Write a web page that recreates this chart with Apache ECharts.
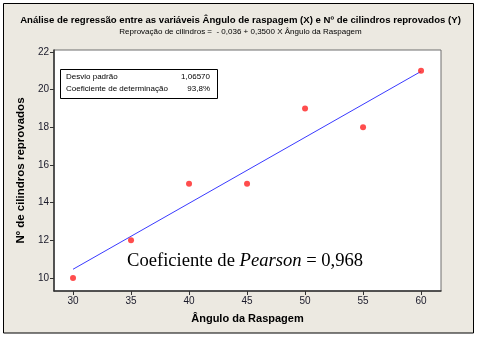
<!DOCTYPE html>
<html>
<head>
<meta charset="utf-8">
<script src="https://cdn.jsdelivr.net/npm/echarts@6/dist/echarts.min.js"></script>
<style>
  html, body { margin: 0; padding: 0; background: #ffffff; }
  #chart { width: 481px; height: 338px; }
</style>
</head>
<body>
<div id="chart"></div>
<script>
// Observed data: scraping angle (X) vs rejected cylinders (Y)
const angles = [30, 35, 40, 45, 50, 55, 60];
const rejected = [10, 12, 15, 15, 19, 18, 21];

// Fitted regression: Y = b0 + b1 * X
const intercept = -0.036;
const slope = 0.35;
const fitRange = [30, 60];

const xTicks = [30, 35, 40, 45, 50, 55, 60];
const yTicks = [10, 12, 14, 16, 18, 20, 22];

const titleText = 'Análise de regressão entre as variáveis Ângulo de raspagem (X) e Nº de cilindros reprovados (Y)';
const subtitleText = 'Reprovação de cilindros =  - 0,036 + 0,3500 X Ângulo da Raspagem';
const statLabels = ['Desvio padrão', 'Coeficiente de determinação'];
const statValues = ['1,06570', '93,8%'];
const pearsonValue = '0,968';

const scatterData = angles.map((a, i) => [a, rejected[i]]);
const fitData = fitRange.map(x => [x, intercept + slope * x]);

const uiFont = 'Liberation Sans';
const chart = echarts.init(document.getElementById('chart'), null, { renderer: 'canvas' });

chart.setOption({
  animation: false,
  backgroundColor: '#ffffff',
  graphic: [
    {
      type: 'rect', z: -10, silent: true,
      shape: { x: 3.5, y: 3.5, width: 470, height: 329.5 },
      style: { fill: '#ECE9E1', stroke: '#000000', lineWidth: 1 }
    },
    {
      type: 'text', left: 'center', top: 15,
      style: { text: titleText, font: 'bold 9.6px ' + uiFont, fill: '#000' }
    },
    {
      type: 'text', left: 'center', top: 28,
      style: { text: subtitleText, font: '8px ' + uiFont, fill: '#000' }
    },
    {
      type: 'group', left: 60, top: 69, z: 10,
      children: [
        { type: 'rect', shape: { x: 0.5, y: 0.5, width: 157, height: 29 },
          style: { fill: '#ffffff', stroke: '#000', lineWidth: 1 } },
        { type: 'text', left: 6, top: 4,
          style: { text: statLabels[0], font: '8px ' + uiFont, fill: '#000' } },
        { type: 'text', left: 6, top: 16,
          style: { text: statLabels[1], font: '8px ' + uiFont, fill: '#000' } },
        { type: 'text', x: 150, y: 4,
          style: { text: statValues[0], font: '8px ' + uiFont, fill: '#000', align: 'right' } },
        { type: 'text', x: 150, y: 16,
          style: { text: statValues[1], font: '8px ' + uiFont, fill: '#000', align: 'right' } }
      ]
    },
    {
      type: 'text', left: 127, top: 252, z: 10,
      style: {
        text: '{n|Coeficiente de }{i|Pearson}{n| = ' + pearsonValue + '}',
        rich: {
          n: { font: '18.6px "Liberation Serif"', fill: '#000' },
          i: { font: 'italic 18.6px "Liberation Serif"', fill: '#000' }
        }
      }
    }
  ],
  grid: {
    left: 54, top: 50, width: 387, height: 241,
    show: true, backgroundColor: '#ffffff', borderColor: '#6e6e6e', borderWidth: 1
  },
  xAxis: {
    type: 'value', min: 28.36, max: 61.72,
    name: 'Ângulo da Raspagem', nameLocation: 'middle', nameGap: 22,
    nameTextStyle: { fontFamily: uiFont, fontWeight: 'bold', fontSize: 11, color: '#000' },
    axisLine: { show: true, lineStyle: { color: '#333', width: 1.5 } },
    axisTick: { show: true, length: 4, lineStyle: { color: '#333' }, customValues: xTicks },
    axisLabel: { fontFamily: uiFont, fontSize: 10, color: '#1a1a2a', margin: 5, customValues: xTicks },
    splitLine: { show: false }
  },
  yAxis: {
    type: 'value', min: 9.31, max: 22.1,
    name: 'Nº de cilindros reprovados', nameLocation: 'middle', nameGap: 26,
    nameTextStyle: { fontFamily: uiFont, fontWeight: 'bold', fontSize: 11.5, color: '#000' },
    axisLine: { show: true, lineStyle: { color: '#333', width: 1.5 } },
    axisTick: { show: true, length: 4, lineStyle: { color: '#333' }, customValues: yTicks },
    axisLabel: { fontFamily: uiFont, fontSize: 10, color: '#1a1a2a', margin: 5, customValues: yTicks },
    splitLine: { show: false }
  },
  series: [
    {
      type: 'line', data: fitData, symbol: 'none',
      lineStyle: { color: '#3a3aff', width: 1 }, z: 2
    },
    {
      type: 'scatter', data: scatterData, symbol: 'circle', symbolSize: 6,
      itemStyle: { color: '#ff2020' }, z: 3
    }
  ]
});
</script>
</body>
</html>
